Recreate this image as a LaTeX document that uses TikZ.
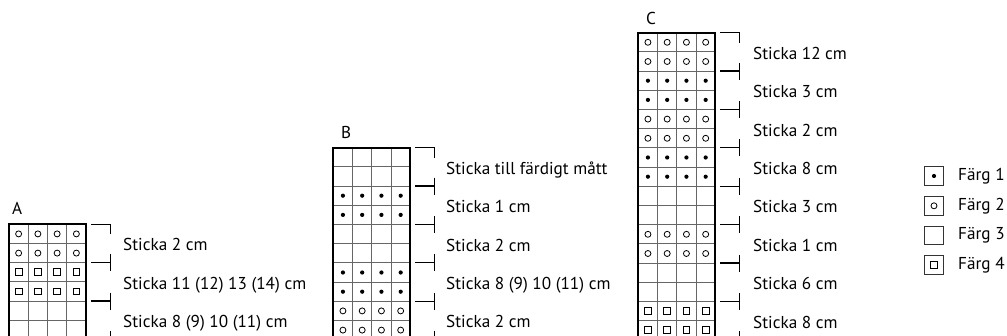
\documentclass[tikz,border=0pt]{standalone}
\usepackage{fontspec}
\setmainfont{PT Sans}
\newcommand\cw{19.25}
\newcommand\rh{19.2}
% \knitchart{left}{top}{rows}{nrows}
\newcommand\knitchart[4]{%
  \foreach \t [count=\i from 0] in {#3} {
    \foreach \j in {0,...,3} {
      \pic at ({#1+(\j+0.5)*\cw},{#2+(\i+0.5)*\rh}) {sym\t};
    }
  }
  \foreach \k in {1,2,3} {
    \draw[gridline] ({#1+\k*\cw},#2) -- ({#1+\k*\cw},{#2+#4*\rh});
  }
  \foreach \k in {1,...,#4} {
    \draw[gridline] (#1,{#2+\k*\rh}) -- ({#1+4*\cw},{#2+\k*\rh});
  }
  \draw[frame] (#1,{#2+#4*\rh}) -- (#1,#2) -- ({#1+4*\cw},#2) -- ({#1+4*\cw},{#2+#4*\rh});
}
% \knitbracket{chart left}{top}{number of ticks after top}
\newcommand\knitbracket[3]{%
  \draw[tickline] ({#1+4*\cw+5},#2) -- ({#1+4*\cw+24.5},#2) -- ({#1+4*\cw+24.5},{#2+10});
  \foreach \k in {1,...,#3} {
    \draw[tickline] ({#1+4*\cw+5},{#2+2*\k*\rh}) -- ({#1+4*\cw+24.5},{#2+2*\k*\rh});
    \draw[tickline] ({#1+4*\cw+24.5},{#2+2*\k*\rh-8.5}) -- ({#1+4*\cw+24.5},{#2+2*\k*\rh+8.5});
  }
}
\begin{document}
\begin{tikzpicture}[x=1pt,y=-1pt,
  gridline/.style={draw=black!60, line width=0.9pt},
  frame/.style={draw=black, line width=1.9pt},
  tickline/.style={draw=black, line width=1.2pt},
  lbl/.style={anchor=base west, inner sep=0pt, font=\fontsize{17.2}{20}\selectfont},
  ttl/.style={anchor=base west, inner sep=0pt, font=\fontsize{17.2}{20}\selectfont},
  symo/.pic={\draw[line width=0.8pt] (0,0) circle (3pt);},
  symd/.pic={\fill (0,0) circle (2.1pt);},
  syms/.pic={\draw[line width=0.8pt] (-3.4,-3.4) rectangle (3.4,3.4);},
  syme/.pic={},
  legbox/.style={draw=black!80, line width=0.9pt, minimum size=18.5pt, inner sep=0pt},
]
\clip (0,0) rectangle (1007,336);
% chart A
\knitchart{9}{224.3}{o,o,s,s,e,e,e}{7}
\knitbracket{9}{224.3}{3}
\node[ttl] (tA) at (12,215) {A};
\node[lbl] (a1) at (123,{224.3+1*\rh+7.5}) {Sticka 2 cm};
\node[lbl] (a2) at (123,{224.3+3*\rh+7.5}) {Sticka 11 (12) 13 (14) cm};
\node[lbl] (a3) at (123,{224.3+5*\rh+7.5}) {Sticka 8 (9) 10 (11) cm};
% chart B
\knitchart{333.3}{147.7}{e,e,d,d,e,e,d,d,o,o,e}{11}
\knitbracket{333.3}{147.7}{5}
\node[ttl] (tB) at (341,139) {B};
\node[lbl] (b1) at (446,{147.7+1*\rh+7.5}) {Sticka till färdigt mått};
\node[lbl] (b2) at (446,{147.7+3*\rh+7.5}) {Sticka 1 cm};
\node[lbl] (b3) at (446,{147.7+5*\rh+7.5}) {Sticka 2 cm};
\node[lbl] (b4) at (446,{147.7+7*\rh+7.5}) {Sticka 8 (9) 10 (11) cm};
\node[lbl] (b5) at (446,{147.7+9*\rh+7.5}) {Sticka 2 cm};
% chart C
\knitchart{638.3}{32.7}{o,o,d,d,o,o,d,d,e,e,o,o,e,e,s,s,e}{17}
\knitbracket{638.3}{32.7}{8}
\node[ttl] (tC) at (646,25) {C};
\node[lbl] (c1) at (753,{32.7+1*\rh+7.5}) {Sticka 12 cm};
\node[lbl] (c2) at (753,{32.7+3*\rh+7.5}) {Sticka 3 cm};
\node[lbl] (c3) at (753,{32.7+5*\rh+7.5}) {Sticka 2 cm};
\node[lbl] (c4) at (753,{32.7+7*\rh+7.5}) {Sticka 8 cm};
\node[lbl] (c5) at (753,{32.7+9*\rh+7.5}) {Sticka 3 cm};
\node[lbl] (c6) at (753,{32.7+11*\rh+7.5}) {Sticka 1 cm};
\node[lbl] (c7) at (753,{32.7+13*\rh+7.5}) {Sticka 6 cm};
\node[lbl] (c8) at (753,{32.7+15*\rh+7.5}) {Sticka 8 cm};
% legend
\node[legbox] (k1) at (934,176) {};
\fill (k1.center) circle (2.1pt);
\node[legbox] (k2) at (934,205.8) {};
\draw[line width=0.8pt] (k2.center) circle (3pt);
\node[legbox] (k3) at (934,235.5) {};
\node[legbox] (k4) at (934,265) {};
\draw[line width=0.8pt] ([shift={(-3.4pt,-3.4pt)}]k4.center) rectangle ([shift={(3.4pt,3.4pt)}]k4.center);
\node[lbl, anchor=west] (f1) at (958,176) {Färg 1};
\node[lbl, anchor=west] (f2) at (958,205.8) {Färg 2};
\node[lbl, anchor=west] (f3) at (958,235.5) {Färg 3};
\node[lbl, anchor=west] (f4) at (958,265) {Färg 4};
\end{tikzpicture}
\end{document}
